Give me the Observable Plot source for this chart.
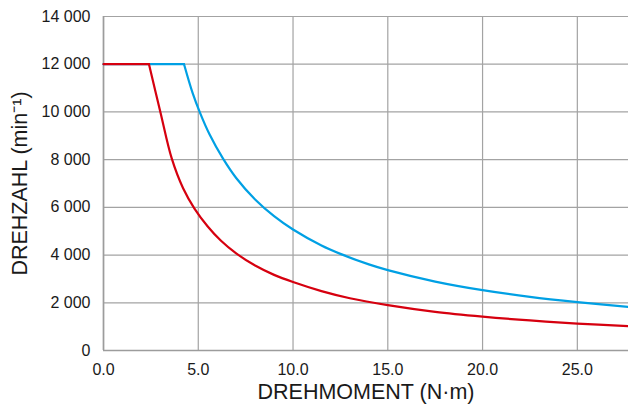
<!DOCTYPE html>
<html>
<head>
<meta charset="utf-8">
<script src="https://cdn.jsdelivr.net/npm/d3@7"></script>
<script src="https://cdn.jsdelivr.net/npm/@observablehq/plot@0.6"></script>
<style>
  html, body { margin: 0; padding: 0; background: #fff; }
</style>
</head>
<body>
<div id="chart"></div>
<script>
// Tick values
const xTicks = [0, 5, 10, 15, 20, 25];
const yTicks = [0, 2000, 4000, 6000, 8000, 10000, 12000, 14000];

// Red curve (torque N·m, speed min^-1)
const redT = [0, 2.4, 3.0, 3.6, 4.2, 4.8, 5.5, 6.2, 7.0, 8.0, 9.0, 10.0, 11.5, 13.0, 15.0, 17.5, 20.0, 22.5, 25.0, 27.7];
const redN = [12000, 12000, 10000, 8050, 6800, 5950, 5200, 4600, 4070, 3560, 3170, 2870, 2490, 2190, 1900, 1620, 1420, 1260, 1130, 1020];

// Blue curve
const blueT = [0, 4.25, 4.7, 5.1, 5.6, 6.3, 7.0, 8.0, 9.0, 10.0, 11.5, 12.5, 14.0, 15.0, 17.5, 20.0, 22.5, 25.0, 27.7];
const blueN = [12000, 12000, 10800, 9950, 9050, 8050, 7230, 6330, 5630, 5070, 4400, 4050, 3610, 3370, 2890, 2530, 2250, 2030, 1830];

const xTitle = "DREHMOMENT (N·m)";
const yTitle = "DREHZAHL (min⁻¹)";

// Build rows: flat part and falling part as separate segments (sharp corner)
function rows(T, N, name) {
  const out = [];
  T.forEach((t, i) => {
    if (i <= 1) out.push({t, n: N[i], seg: name + "-flat"});
    if (i >= 1) out.push({t, n: N[i], seg: name + "-curve"});
  });
  return out;
}
const red = rows(redT, redN, "red");
const blue = rows(blueT, blueN, "blue");

const fmtY = d => d3.format(",")(d).replace(/,/g, " ");
const gridColor = "#a3a3a3";

const chart = Plot.plot({
  width: 628,
  height: 412,
  marginLeft: 103,
  marginRight: 0,
  marginTop: 16,
  marginBottom: 62,
  style: {fontFamily: "'Liberation Sans', Arial, sans-serif", fontSize: "16px", color: "#1a1a1a", background: "#fff"},
  x: {domain: [0, 27.7]},
  y: {domain: [0, 14000]},
  marks: [
    Plot.gridX(xTicks, {stroke: gridColor, strokeOpacity: 1, strokeWidth: 1.2}),
    Plot.gridY(yTicks, {stroke: gridColor, strokeOpacity: 1, strokeWidth: 1.2}),
    Plot.ruleX([0], {stroke: "#9c9c9c", strokeWidth: 1.6}),
    Plot.ruleY([0], {stroke: "#9c9c9c", strokeWidth: 1.6}),
    Plot.line(blue, {x: "t", y: "n", z: "seg", stroke: "#00a0e4", strokeWidth: 2.2, curve: "catmull-rom"}),
    Plot.line(red, {x: "t", y: "n", z: "seg", stroke: "#d6000f", strokeWidth: 2.2, curve: "catmull-rom"}),
    Plot.axisX(xTicks, {tickSize: 0, tickPadding: 13, tickFormat: d3.format(".1f"), fontSize: 16, label: null}),
    Plot.axisY(yTicks, {tickSize: 0, tickPadding: 13, tickFormat: fmtY, fontSize: 16, label: null}),
    Plot.text([xTitle], {frameAnchor: "bottom", dy: 48, fontSize: 21.5, fill: "#1a1a1a", textAnchor: "middle"}),
    Plot.text([yTitle], {frameAnchor: "left", rotate: -90, dx: -83, fontSize: 21.5, fill: "#1a1a1a", textAnchor: "middle"})
  ]
});
document.getElementById("chart").appendChild(chart);
</script>
</body>
</html>
